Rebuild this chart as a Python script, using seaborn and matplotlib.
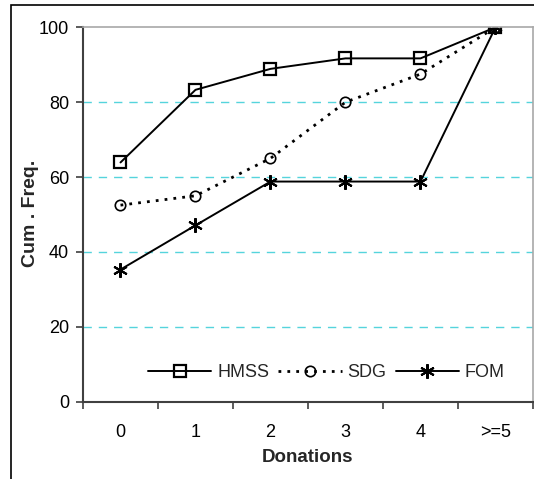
import matplotlib
matplotlib.use("Agg")
import matplotlib.pyplot as plt
import seaborn as sns
import pandas as pd
import numpy as np
from matplotlib.patches import Rectangle

categories = ["0", "1", "2", "3", "4", ">=5"]
hmss = [63.9, 83.3, 88.9, 91.7, 91.7, 100.0]
sdg = [52.5, 55.0, 65.0, 80.0, 87.5, 100.0]
fom = [35.3, 47.1, 58.8, 58.8, 58.8, 100.0]
y_ticks = [0, 20, 40, 60, 80, 100]

sns.set_theme(style="white")
plt.rcParams['font.family'] = ['Liberation Sans', 'DejaVu Sans']

fig = plt.figure(figsize=(5.34, 4.79), dpi=100)
ax = fig.add_axes([83 / 534, 1 - 401.7 / 479, 450 / 534, (401.7 - 27.3) / 479])

xpos = np.arange(len(categories))
df = pd.DataFrame({"x": xpos, "HMSS": hmss, "SDG": sdg, "FOM": fom})

for y in [20, 40, 60, 80]:
    ax.axhline(y, color="#55d4dc", lw=1.0, ls=(0, (6, 5)), zorder=0)

sns.lineplot(data=df, x="x", y="HMSS", ax=ax, color="black", lw=1.4,
             marker="s", markersize=8, markerfacecolor="none",
             markeredgecolor="black", markeredgewidth=1.6, label="HMSS")
sns.lineplot(data=df, x="x", y="SDG", ax=ax, color="black", lw=2.0,
             ls=(0, (1, 2.2)), marker="o", markersize=7.5, markerfacecolor="none",
             markeredgecolor="black", markeredgewidth=1.2, label="SDG")
sns.lineplot(data=df, x="x", y="FOM", ax=ax, color="black", lw=1.4,
             marker=(6, 2, 0), markersize=10.5, markeredgecolor="black",
             markeredgewidth=1.5, label="FOM")

ax.set_xlim(-0.5, len(categories) - 0.5)
ax.set_ylim(0, 100)
ax.set_yticks(y_ticks)
ax.set_yticklabels([str(v) for v in y_ticks], fontsize=13)
ax.set_xticks(xpos)
ax.set_xticklabels(categories, fontsize=13)
ax.set_xticks(np.arange(len(categories) + 1) - 0.5, minor=True)
ax.tick_params(axis="x", which="major", length=0, pad=16, colors="black")
ax.tick_params(axis="x", which="minor", length=5, width=1.2, color="#404040", direction="out", bottom=True)
ax.tick_params(axis="y", which="major", length=5, width=1.2, direction="out", left=True, pad=5, labelcolor="black")
ax.tick_params(axis="y", which="major", color="#404040")

for s in ["left", "bottom"]:
    ax.spines[s].set_color("#404040")
    ax.spines[s].set_linewidth(1.5)
for s in ["top", "right"]:
    ax.spines[s].set_color("#a8a8a8")
    ax.spines[s].set_linewidth(1.2)

ax.set_xlabel("Donations", fontsize=13.5, fontweight="bold", labelpad=6)
ax.set_ylabel("Cum . Freq.", fontsize=14, fontweight="bold")
ax.yaxis.set_label_coords(-0.098, 0.504)

leg = ax.legend(loc="center", bbox_to_anchor=(0.541, 0.077), ncol=3, frameon=False,
                fontsize=13, handlelength=3.5, handletextpad=0.33, columnspacing=0.5)

fig.patches.append(Rectangle((11 / 534, -0.1), 2, (1 - 5 / 479) + 0.1,
                             transform=fig.transFigure, fill=False, lw=1.2,
                             ec="black", zorder=10))

fig.savefig("out.png", dpi=100)
